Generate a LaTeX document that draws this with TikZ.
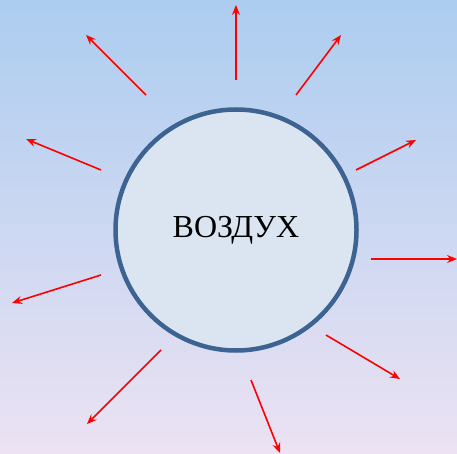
\documentclass[tikz,border=0pt]{standalone}
\usepackage{fontspec}
\setmainfont{Liberation Serif}
\usetikzlibrary{arrows.meta}
\definecolor{bgtop}{RGB}{172,205,240}
\definecolor{bgbot}{RGB}{236,226,243}
\definecolor{circfill}{RGB}{219,229,241}
\definecolor{circline}{RGB}{60,99,145}
\tikzset{
  ray/.style={draw=red, line width=1.6pt, -{Stealth[length=10pt,width=8pt,inset=3.5pt]}},
  sun/.style={circle, draw=circline, fill=circfill, line width=4.5pt, minimum size=241pt, inner sep=0pt, font=\fontsize{32}{38}\selectfont}
}
\begin{document}
\begin{tikzpicture}[x=1pt,y=-1pt]
\shade[top color=bgtop, bottom color=bgbot] (0,0) rectangle (457,454);
\useasboundingbox (0,0) rectangle (457,454);
\node[sun] (air) at (236,230) {ВОЗДУХ};
\coordinate (s1) at (236,80);  \coordinate (e1) at (236,5);
\coordinate (s2) at (296,95);  \coordinate (e2) at (341,35);
\coordinate (s3) at (356,170); \coordinate (e3) at (416,140);
\coordinate (s4) at (371,259); \coordinate (e4) at (457,259);
\coordinate (s5) at (326,335); \coordinate (e5) at (400,379);
\coordinate (s6) at (251,380); \coordinate (e6) at (280,453);
\coordinate (s7) at (161,350); \coordinate (e7) at (87,424);
\coordinate (s8) at (101,275); \coordinate (e8) at (12,303);
\coordinate (s9) at (101,170); \coordinate (e9) at (26,139);
\coordinate (s10) at (146,95); \coordinate (e10) at (86,35);
\foreach \i in {1,...,10} { \draw[ray] (s\i) -- (e\i); }
\end{tikzpicture}
\end{document}
